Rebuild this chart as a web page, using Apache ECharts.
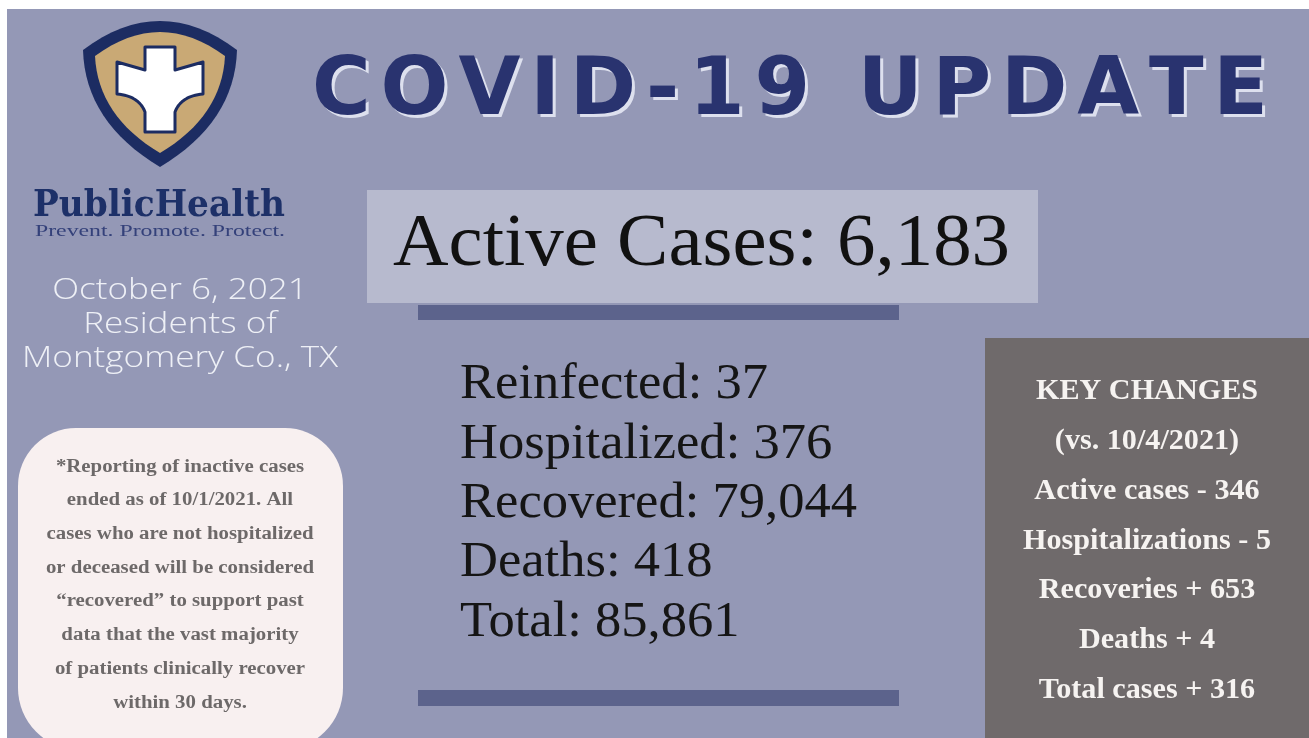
<!DOCTYPE html>
<html>
<head>
<meta charset="utf-8">
<script src="https://cdn.jsdelivr.net/npm/echarts@6/dist/echarts.min.js"></script>
<style>html,body{margin:0;padding:0;background:#fff}#c{width:1309px;height:738px}</style>
</head>
<body>
<div id="c"></div>
<script>
// ---------- data ----------
const titleText = 'COVID-19 UPDATE';
const orgName = 'PublicHealth';
const orgTagline = 'Prevent. Promote. Protect.';
const reportDate = 'October 6, 2021';
const locationLines = ['Residents of', 'Montgomery Co., TX'];
const activeLabel = 'Active Cases';
const activeValue = 6183;
const statLabels = ['Reinfected', 'Hospitalized', 'Recovered', 'Deaths', 'Total'];
const statValues = [37, 376, 79044, 418, 85861];
const changeHeader = ['KEY CHANGES', '(vs. 10/4/2021)'];
const changeLabels = ['Active cases', 'Hospitalizations', 'Recoveries', 'Deaths', 'Total cases'];
const changeValues = [-346, -5, 653, 4, 316];
const noteLines = [
  '*Reporting of inactive cases',
  'ended as of 10/1/2021. All',
  'cases who are not hospitalized',
  'or deceased will be considered',
  '\u201crecovered\u201d to support past',
  'data that the vast majority',
  'of patients clinically recover',
  'within 30 days.'
];

// ---------- helpers ----------
const W = 1309, H = 738;
const mctx = document.createElement('canvas').getContext('2d');
function measure(text, font) { mctx.font = font; return mctx.measureText(text).width; }
function fmt(v) { return v.toLocaleString('en-US'); }
function txt(text, x, y, font, fill, align, scaleX, z) {
  return {
    type: 'text', x: x, y: y, scaleX: scaleX || 1, z: z || 10,
    style: { text: text, font: font, fill: fill, align: align || 'left', verticalAlign: 'middle' }
  };
}
// segments: start point then list of ['L',x,y] or ['Q',cx,cy,x,y]
function shapePoints(start, segs) {
  const pts = [start.slice()];
  let p = start.slice();
  segs.forEach(s => {
    if (s[0] === 'L') { p = [s[1], s[2]]; pts.push(p); }
    else {
      for (let k = 1; k <= 16; k++) {
        const t = k / 16, u = 1 - t;
        pts.push([u * u * p[0] + 2 * u * t * s[1] + t * t * s[3], u * u * p[1] + 2 * u * t * s[2] + t * t * s[4]]);
      }
      p = [s[3], s[4]];
    }
  });
  return pts;
}

const els = [];
els.push({ type: 'rect', shape: { x: 0, y: 0, width: W, height: H }, style: { fill: '#ffffff' }, z: 0 });
els.push({ type: 'rect', shape: { x: 7, y: 9, width: W - 7, height: H - 9 }, style: { fill: '#9498b6' }, z: 1 });

// shield logo
els.push({ type: 'polygon', z: 5, shape: { points: shapePoints([83, 50], [['Q', 160, -8, 237, 50], ['Q', 235, 122, 160, 167], ['Q', 85, 122, 83, 50]]) }, style: { fill: '#1c2c62' } });
els.push({ type: 'polygon', z: 6, shape: { points: shapePoints([95, 56], [['Q', 160, 8, 225, 56], ['Q', 222, 116, 160, 153], ['Q', 98, 116, 95, 56]]) }, style: { fill: '#c9a975' } });
els.push({ type: 'polygon', z: 7, shape: { points: shapePoints([145, 47], [['L', 175, 47], ['L', 175, 70], ['L', 203, 62], ['L', 203, 94], ['Q', 181, 96, 175, 112], ['L', 175, 132], ['L', 145, 132], ['L', 145, 112], ['Q', 139, 96, 117, 94], ['L', 117, 62], ['L', 145, 70]]) }, style: { fill: '#ffffff', stroke: '#1c2c62', lineWidth: 3, lineJoin: 'round' } });

// org name
const phFont = 'bold 37px "DejaVu Serif"';
els.push(txt(orgName, 33, 206, phFont, '#1d3068', 'left', 252 / measure(orgName, phFont)));
const tagFont = '16px "Liberation Serif"';
els.push(txt(orgTagline, 35, 232, tagFont, '#34417a', 'left', 250 / measure(orgTagline, tagFont)));

// date / location
const dateFont = '300 30px "Open Sans"';
const dateScale = 316 / measure(locationLines[1], dateFont);
els.push(txt(reportDate, 180, 290, dateFont, '#eef0f6', 'center', dateScale));
els.push(txt(locationLines[0], 180, 324, dateFont, '#eef0f6', 'center', dateScale));
els.push(txt(locationLines[1], 180, 358, dateFont, '#eef0f6', 'center', dateScale));

// title with per-letter spacing
const tFont = 'bold 80px "DejaVu Sans"';
const chars = titleText.split('');
const cw = chars.map(c => measure(c, tFont));
const natW = cw.reduce((a, b) => a + b, 0);
const gap = (1268 - 312 - natW) / (chars.length - 1);
let cx = 312;
chars.forEach((c, i) => {
  if (c !== ' ') {
    els.push(txt(c, cx + 3, 96, tFont, '#dde0ee', 'left', 1, 8));
    els.push(txt(c, cx, 93, tFont, '#29336f', 'left', 1, 9));
  }
  cx += cw[i] + gap;
});

// active cases box
els.push({ type: 'rect', z: 3, shape: { x: 367, y: 190, width: 671, height: 113 }, style: { fill: '#b7bace' } });
els.push({ type: 'rect', z: 3, shape: { x: 418, y: 305, width: 481, height: 15 }, style: { fill: '#5c638c' } });
els.push({ type: 'rect', z: 3, shape: { x: 418, y: 690, width: 481, height: 16 }, style: { fill: '#5c638c' } });
const aFont = '74px "Liberation Serif"';
const aText = activeLabel + ': ' + fmt(activeValue);
els.push(txt(aText, 393, 246, aFont, '#111111', 'left', 617 / measure(aText, aFont)));

// stats list
const sFont = '51px "Liberation Serif"';
const sLines = statLabels.map((l, i) => l + ': ' + fmt(statValues[i]));
const sScale = 397 / measure(sLines[2], sFont);
sLines.forEach((s, i) => els.push(txt(s, 460, 385 + i * 59.3, sFont, '#151515', 'left', sScale)));

// key changes box
els.push({ type: 'rect', z: 3, shape: { x: 985, y: 338, width: 324, height: 400 }, style: { fill: '#6f6a6b' } });
const kFont = 'bold 29px "Liberation Serif"';
const kLines = changeHeader.concat(changeLabels.map((l, i) => l + (changeValues[i] < 0 ? ' - ' : ' + ') + fmt(Math.abs(changeValues[i]))));
const kScale = 248 / measure(kLines[3], kFont);
kLines.forEach((s, i) => els.push(txt(s, 1147, 392 + i * 49.7, kFont, '#f6f3f1', 'center', kScale)));

// note bubble
els.push({ type: 'rect', z: 3, shape: { x: 18, y: 428, width: 325, height: 322, r: [58, 58, 62, 62] }, style: { fill: '#f8f0f0' } });
const nFont = 'bold 18px "Liberation Serif"';
const nScale = 267 / measure(noteLines[2], nFont);
noteLines.forEach((s, i) => els.push(txt(s, 180, 467 + i * 33.7, nFont, '#6d6969', 'center', nScale)));

const chart = echarts.init(document.getElementById('c'), null, { renderer: 'canvas' });
chart.setOption({ animation: false, backgroundColor: '#ffffff', graphic: { elements: els } });
</script>
</body>
</html>
